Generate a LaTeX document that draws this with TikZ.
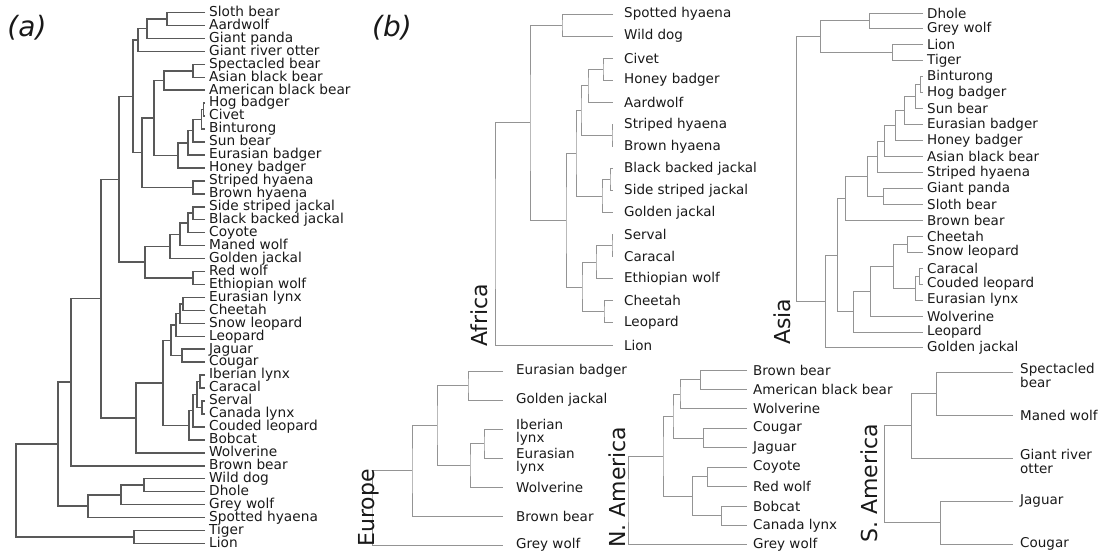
\documentclass[tikz,border=0pt]{standalone}
\usepackage{fontspec}
\setmainfont{DejaVu Sans}
\usetikzlibrary{calc}

\tikzset{
  treea/.style={draw=black!65, line width=1.5pt},
  treeb/.style={draw=black!42, line width=1pt},
  leafa/.style={anchor=west, inner sep=0pt, text height=9.2pt, text depth=2.6pt, text=black!90, font=\fontsize{13.7}{13.7}\selectfont},
  leafb/.style={anchor=west, inner sep=0pt, align=left, text=black!90, font=\fontsize{13.5}{13.5}\selectfont},
  region/.style={rotate=90, anchor=base west, inner sep=0pt, text=black!90, font=\fontsize{22}{22}\selectfont},
  panel/.style={text=black!90, font=\fontsize{28}{28}\selectfont\itshape},
}

% clade: style, name, x of the join, first child, second child
\newcommand\clade[5]{%
  \coordinate (tmp) at ($(#4)!0.5!(#5)$);
  \coordinate (#2) at (#3,0 |- tmp);
  \draw[#1] (#4) -| (#2) |- (#5);
}

\begin{document}
\begin{tikzpicture}[x=1pt,y=-1pt]
\useasboundingbox (0,0) rectangle (1105,555);

\node[panel] (pa) at (27,28) {(a)};
\node[panel] (pb) at (392,28) {(b)};

% (a) all species
\foreach \lbl [count=\i] in {Sloth bear, Aardwolf, Giant panda, Giant river otter,
    Spectacled bear, Asian black bear, American black bear, Hog badger, Civet,
    Binturong, Sun bear, Eurasian badger, Honey badger, Striped hyaena,
    Brown hyaena, Side striped jackal, Black backed jackal, Coyote, Maned wolf,
    Golden jackal, Red wolf, Ethiopian wolf, Eurasian lynx, Cheetah,
    Snow leopard, Leopard, Jaguar, Cougar, Iberian lynx, Caracal, Serval,
    Canada lynx, Couded leopard, Bobcat, Wolverine, Brown bear, Wild dog,
    Dhole, Grey wolf, Spotted hyaena, Tiger, Lion} {
  \coordinate (a\i) at (205,{12.5+12.95*(\i-1)});
  \node[leafa] (ta\i) at ([xshift=4pt,yshift=-0.5pt]a\i) {\lbl};
}
\clade{treea}{aj1}{167}{a1}{a2}
\clade{treea}{aj2}{147}{aj1}{a3}
\clade{treea}{aj3}{138}{aj2}{a4}
\clade{treea}{aj4}{193}{a5}{a6}
\clade{treea}{aj5}{164}{aj4}{a7}
\clade{treea}{aj6}{203.5}{a8}{a9}
\clade{treea}{aj7}{201.5}{aj6}{a10}
\clade{treea}{aj8}{193}{aj7}{a11}
\clade{treea}{aj9}{188}{aj8}{a12}
\clade{treea}{aj10}{178}{aj9}{a13}
\clade{treea}{aj11}{154}{aj5}{aj10}
\clade{treea}{aj12}{193}{a14}{a15}
\clade{treea}{aj13}{142}{aj11}{aj12}
\clade{treea}{aj14}{133}{aj3}{aj13}
\clade{treea}{aj15}{193}{a16}{a17}
\clade{treea}{aj16}{188}{aj15}{a18}
\clade{treea}{aj17}{180}{aj16}{a19}
\clade{treea}{aj18}{170}{aj17}{a20}
\clade{treea}{aj19}{193}{a21}{a22}
\clade{treea}{aj20}{145}{aj18}{aj19}
\clade{treea}{aj21}{119}{aj14}{aj20}
\clade{treea}{aj22}{183}{a23}{a24}
\clade{treea}{aj23}{180}{aj22}{a25}
\clade{treea}{aj24}{176}{aj23}{a26}
\clade{treea}{aj25}{182}{a27}{a28}
\clade{treea}{aj26}{171}{aj24}{aj25}
\clade{treea}{aj27}{200}{a29}{a30}
\clade{treea}{aj28}{202}{a31}{a32}
\clade{treea}{aj29}{197}{aj27}{aj28}
\clade{treea}{aj30}{193}{aj29}{a33}
\clade{treea}{aj31}{189}{aj30}{a34}
\clade{treea}{aj32}{163}{aj26}{aj31}
\clade{treea}{aj33}{136}{aj32}{a35}
\clade{treea}{aj34}{101}{aj21}{aj33}
\clade{treea}{aj35}{71}{aj34}{a36}
\clade{treea}{aj36}{144}{a37}{a38}
\clade{treea}{aj37}{121}{aj36}{a39}
\clade{treea}{aj38}{88}{aj37}{a40}
\clade{treea}{aj39}{58}{aj35}{aj38}
\clade{treea}{aj40}{134}{a41}{a42}
\clade{treea}{aj41}{16}{aj39}{aj40}

% (b) Africa
\foreach \lbl [count=\i] in {Spotted hyaena, Wild dog, Civet, Honey badger,
    Aardwolf, Striped hyaena, Brown hyaena, Black backed jackal,
    Side striped jackal, Golden jackal, Serval, Caracal, Ethiopian wolf,
    Cheetah, Leopard, Lion} {
  \coordinate (f\i) at (613,{14+22.07*(\i-1)});
  \node[leafb] (tf\i) at ([xshift=11pt]f\i) {\lbl};
}
\clade{treeb}{fj1}{562}{f1}{f2}
\clade{treeb}{fj2}{603}{f3}{f4}
\clade{treeb}{fj3}{588}{fj2}{f5}
\clade{treeb}{fj4}{612}{f6}{f7}
\clade{treeb}{fj5}{581}{fj3}{fj4}
\clade{treeb}{fj6}{610}{f8}{f9}
\clade{treeb}{fj7}{602}{fj6}{f10}
\clade{treeb}{fj8}{576}{fj5}{fj7}
\clade{treeb}{fj9}{612}{f11}{f12}
\clade{treeb}{fj10}{596}{fj9}{f13}
\clade{treeb}{fj11}{604}{f14}{f15}
\clade{treeb}{fj12}{582}{fj10}{fj11}
\clade{treeb}{fj13}{566}{fj8}{fj12}
\clade{treeb}{fj14}{530}{fj1}{fj13}
\clade{treeb}{fj15}{495}{fj14}{f16}
\node[region] (africa) at (487,347) {Africa};

% (b) Asia
\foreach \lbl [count=\i] in {Dhole, Grey wolf, Lion, Tiger, Binturong,
    Hog badger, Sun bear, Eurasian badger, Honey badger, Asian black bear,
    Striped hyaena, Giant panda, Sloth bear, Brown bear, Cheetah,
    Snow leopard, Caracal, Couded leopard, Eurasian lynx, Wolverine,
    Leopard, Golden jackal} {
  \coordinate (s\i) at (923,{13+15.95*(\i-1)});
  \node[leafb] (ts\i) at ([xshift=4pt]s\i) {\lbl};
}
\clade{treeb}{sj1}{869}{s1}{s2}
\clade{treeb}{sj2}{892}{s3}{s4}
\clade{treeb}{sj3}{820}{sj1}{sj2}
\clade{treeb}{sj4}{920.5}{s5}{s6}
\clade{treeb}{sj5}{915}{sj4}{s7}
\clade{treeb}{sj6}{904}{sj5}{s8}
\clade{treeb}{sj7}{895}{sj6}{s9}
\clade{treeb}{sj8}{884}{sj7}{s10}
\clade{treeb}{sj9}{877}{sj8}{s11}
\clade{treeb}{sj10}{883}{s12}{s13}
\clade{treeb}{sj11}{867}{sj9}{sj10}
\clade{treeb}{sj12}{845}{sj11}{s14}
\clade{treeb}{sj13}{907}{s15}{s16}
\clade{treeb}{sj14}{919}{s17}{s18}
\clade{treeb}{sj15}{915}{sj14}{s19}
\clade{treeb}{sj16}{893}{sj13}{sj15}
\clade{treeb}{sj17}{870}{sj16}{s20}
\clade{treeb}{sj18}{853}{sj17}{s21}
\clade{treeb}{sj19}{837}{sj12}{sj18}
\clade{treeb}{sj20}{825}{sj19}{s22}
\clade{treeb}{sj21}{796}{sj3}{sj20}
\node[region] (asia) at (790,345) {Asia};

% (b) Europe
\foreach \lbl/\dy [count=\i] in {Eurasian badger/0, Golden jackal/0,
    {Iberian\\lynx}/-3.5, {Eurasian\\lynx}/-3.5, Wolverine/0,
    Brown bear/0, Grey wolf/0} {
  \coordinate (e\i) at (503,{371+29*(\i-1)});
  \node[leafb] (te\i) at ([xshift=13pt,yshift=\dy pt]e\i) {\lbl};
}
\clade{treeb}{ej1}{468}{e1}{e2}
\clade{treeb}{ej2}{484}{e3}{e4}
\clade{treeb}{ej3}{470}{ej2}{e5}
\clade{treeb}{ej4}{437}{ej1}{ej3}
\clade{treeb}{ej5}{412}{ej4}{e6}
\clade{treeb}{ej6}{372}{ej5}{e7}
\node[region] (europe) at (374,547) {Europe};

% (b) N. America
\foreach \lbl [count=\i] in {Brown bear, American black bear, Wolverine,
    Cougar, Jaguar, Coyote, Red wolf, Bobcat, Canada lynx, Grey wolf} {
  \coordinate (n\i) at (747,{370+19.44*(\i-1)});
  \node[leafb] (tn\i) at ([xshift=6pt]n\i) {\lbl};
}
\clade{treeb}{nj1}{700}{n1}{n2}
\clade{treeb}{nj2}{680}{nj1}{n3}
\clade{treeb}{nj3}{703}{n4}{n5}
\clade{treeb}{nj4}{673}{nj2}{nj3}
\clade{treeb}{nj5}{707}{n6}{n7}
\clade{treeb}{nj6}{721}{n8}{n9}
\clade{treeb}{nj7}{692}{nj5}{nj6}
\clade{treeb}{nj8}{663}{nj4}{nj7}
\clade{treeb}{nj9}{628}{nj8}{n10}
\node[region] (namerica) at (625,548) {N. America};

% (b) S. America
\foreach \lbl/\dy [count=\i] in {{Spectacled\\bear}/-3.5, Maned wolf/0,
    {Giant river\\otter}/-3.5, Jaguar/0, Cougar/0} {
  \coordinate (m\i) at (1013,{372+43*(\i-1)});
  \node[leafb] (tm\i) at ([xshift=7pt,yshift=\dy pt]m\i) {\lbl};
}
\clade{treeb}{mj1}{936}{m1}{m2}
\clade{treeb}{mj2}{911}{mj1}{m3}
\clade{treeb}{mj3}{940}{m4}{m5}
\clade{treeb}{mj4}{884}{mj2}{mj3}
\node[region] (samerica) at (877,543) {S. America};
\end{tikzpicture}
\end{document}
